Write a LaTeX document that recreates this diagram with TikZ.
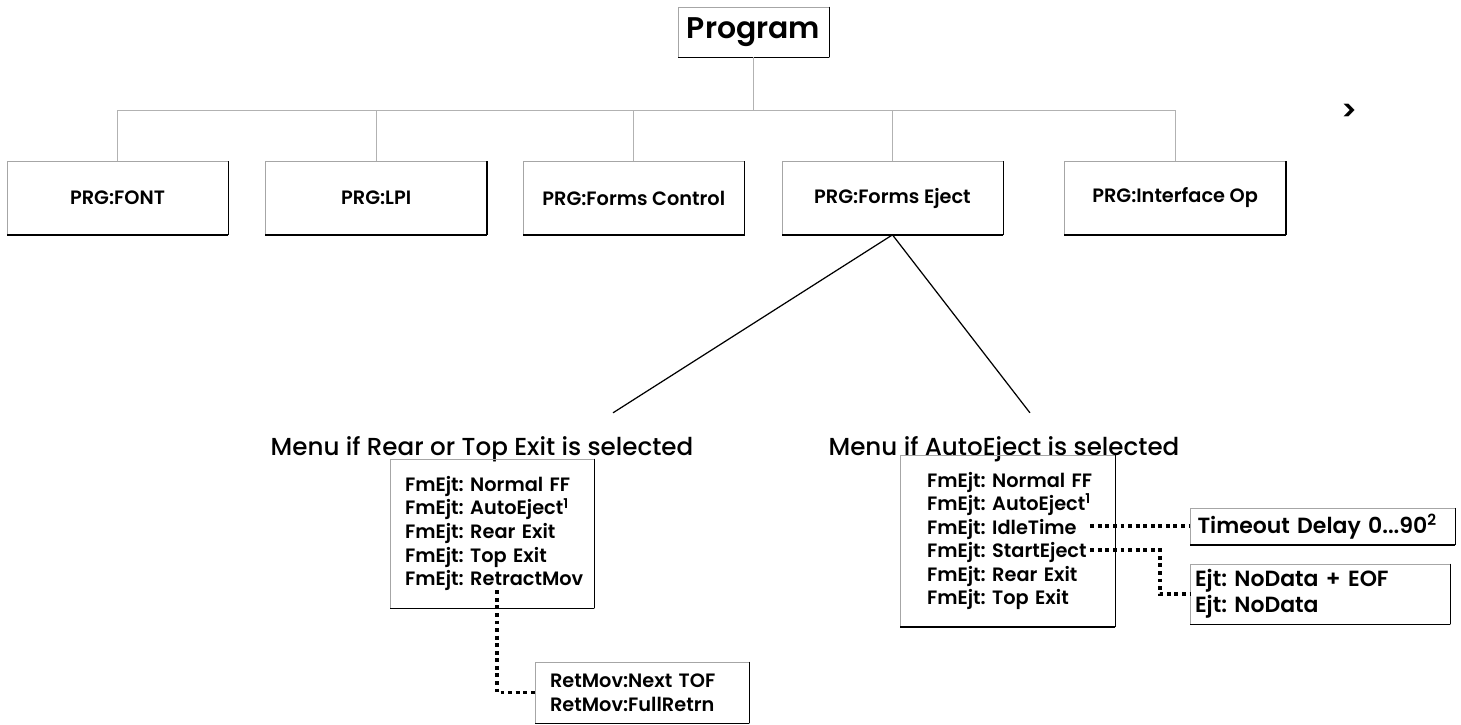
\documentclass[tikz,border=0pt]{standalone}
\usepackage{fontspec}
\setmainfont{Poppins}[UprightFont=* Medium, BoldFont=* SemiBold]
\usepackage{tikz}
\usetikzlibrary{positioning}
\usetikzlibrary{calc}
\tikzstyle{edgeline} = [black, line width=0.9pt]
\tikzstyle{block} = [rectangle, draw=black!35, line width=0.4pt, minimum width=4.42cm, minimum height=1.46cm, font=\fontsize{11}{13}\selectfont\bfseries, append after command={(\tikzlastnode.north east) edge[edgeline] (\tikzlastnode.south east) (\tikzlastnode.south east) edge[edgeline] (\tikzlastnode.south west)}]
\tikzstyle{menu} = [block, align=left, minimum width=0pt, inner xsep=0.1cm, font=\fontsize{11}{13.4}\selectfont\bfseries]
\tikzstyle{menutitle} = [font=\fontsize{14}{16}\selectfont]
\tikzstyle{busline} = [black!30, line width=0.5pt]
\tikzstyle{dotline} = [line width=2.2pt, dash pattern=on 2.2pt off 2.1pt]
\tikzstyle{split} = [black, line width=0.7pt]

\begin{document}
\begin{tikzpicture}[x=0.02cm, y=-0.02cm]
	\useasboundingbox (0,0) rectangle (1461,724);

	% Top node
	\node[block, minimum width=3.02cm, minimum height=1.0cm, font=\fontsize{17}{20}\selectfont\bfseries] (prog) at (753.5,32) {Program};
	\coordinate[below = 1.06cm of prog] (bus);

	% First menu level
	\node[block] (pfont) at (117.5,198) {PRG:FONT};
	\node[block, right = 0.74cm of pfont] (lpi) {PRG:LPI};
	\node[block, right = 0.72cm of lpi] (fctrl) {PRG:Forms Control};
	\node[block, right = 0.74cm of fctrl] (fejct) {PRG:Forms Eject};
	\node[block, right = 1.22cm of fejct] (ifop) {PRG:Interface Op};
	\node[font=\fontsize{16}{18}\selectfont\bfseries] (more) at (1349,112) {>};

	% Connect the first level
	\draw[busline] (prog) -- (bus);
	\draw[busline] (pfont.north |- bus) -- (ifop.north |- bus);
	\foreach \n in {pfont,lpi,fctrl,fejct,ifop}
		\draw[busline] (\n.north |- bus) -- (\n.north);

	% Split below Forms Eject
	\coordinate (lsplit) at ($(fejct.south) + (-5.59cm,-3.56cm)$);
	\coordinate (rsplit) at ($(fejct.south) + (2.75cm,-3.56cm)$);
	\draw[split] (fejct.south) -- (lsplit);
	\draw[split] (fejct.south) -- (rsplit);

	% Menu if Rear or Top Exit
	\node[menutitle] (ttlrear) at (482,449) {Menu if Rear or Top Exit is selected};
	\node[menu, text width=3.88cm, minimum height=2.98cm] (mrear) at (492,533.5) {\leftskip=0.2cm FmEjt:~Normal~FF\\ FmEjt:~AutoEject\textsuperscript{1}\\ FmEjt:~Rear~Exit\\ FmEjt:~Top~Exit\\ FmEjt:~RetractMov\par};
	\coordinate (rtrstart) at ($(mrear.south) + (0.1cm,0.36cm)$);
	\node[menu, text width=4.08cm, minimum height=1.22cm] (retmov) at (642,692.5) {\leftskip=0.2cm RetMov:Next~TOF\\ RetMov:FullRetrn\par};
	\draw[dotline] (rtrstart) |- (retmov.west);

	% Menu if AutoEject
	\node[menutitle] (ttlauto) at (1004,449) {Menu if AutoEject is selected};
	\node[menu, text width=4.1cm, minimum height=3.42cm] (mauto) at (1007.5,541) {\leftskip=0.44cm FmEjt:~Normal~FF\\ FmEjt:~AutoEject\textsuperscript{1}\\ FmEjt:~IdleTime\\ FmEjt:~StartEject\\ FmEjt:~Rear~Exit\\ FmEjt:~Top~Exit\par};
	\node[menu, text width=5.1cm, minimum height=0.58cm, font=\fontsize{12.5}{15}\selectfont\bfseries] (tmout) at (1322.5,526.5) {\leftskip=0.05cm Timeout~Delay~0...90\textsuperscript{2}\par};
	\node[menu, text width=5.0cm, minimum height=1.12cm, font=\fontsize{12.5}{14.5}\selectfont\bfseries] (ejt) at (1320,594) {Ejt:~NoData~+~EOF\\ Ejt:~NoData\par};

	% Dotted connections
	\coordinate (idle) at ($(mauto.north east) + (-0.5cm,-1.42cm)$);
	\coordinate (strt) at ($(mauto.north east) + (-0.5cm,-1.89cm)$);
	\draw[dotline] (idle) -- (idle -| tmout.west);
	\draw[dotline] (strt) -| ($(ejt.west) + (-0.6cm,0)$) -- (ejt.west);

\end{tikzpicture}
\end{document}
